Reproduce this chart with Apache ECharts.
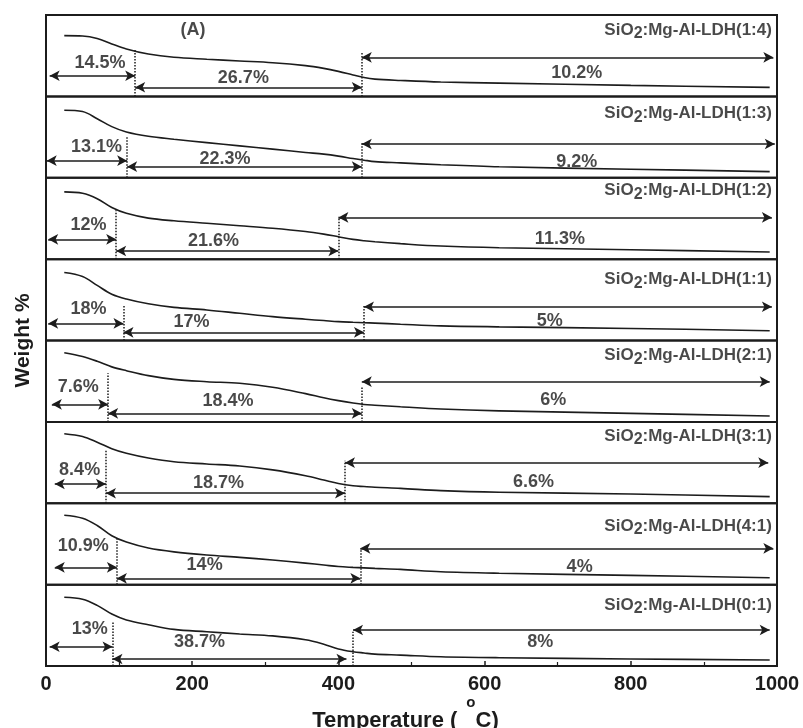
<!DOCTYPE html>
<html><head><meta charset="utf-8">
<script src="https://cdn.jsdelivr.net/npm/echarts@6/dist/echarts.min.js"></script>
<style>html,body{margin:0;padding:0;background:#fff}#c{width:803px;height:728px}</style>
</head><body><div id="c"></div>
<script>
// Temperature samples (°C)
const temperature = [25,50,70,90,110,140,175,220,265,310,355,380,400,420,435,450,485,540,620,800,990];
// Relative weight curves (panel-local units, 0 = panel bottom, 100 = panel top)
const weight_1_4 = [74.6,74.2,71.2,64.5,58.3,52,48,45.6,43.5,41.4,37.8,34.4,30.7,26.3,23.1,21.2,19.6,17.7,16.3,13.5,11];
const weight_1_3 = [83,81.3,72.6,62.8,56.2,50.9,47.3,43.2,39.2,35.2,31.1,29,26.6,23.6,21.6,19.8,18.3,16,13.5,10.5,7.5];
const weight_1_2 = [82.6,80.9,74.3,63.4,56.3,50.4,47.1,44,41,37.9,33.9,30.7,27.5,24.3,22.6,21.3,19,16.1,14,11.5,8.7];
const weight_1_1 = [83.5,78.6,67.7,56.9,51,45.1,40.7,37.5,33.4,29.3,26.1,24.5,23.2,22.4,21.9,21.4,20,18,16.8,14.8,12];
const weight_2_1 = [85,80.3,74.5,67.6,62.9,56.8,52.2,49.4,47.4,42.6,34.7,29.6,26.1,23.1,21.4,20.5,18.6,15.8,13.5,10.5,7.2];
const weight_3_1 = [85.5,82,75,67,61.4,55.6,51,48.3,45.8,41,33.8,28.5,24.3,21.5,20.5,19.6,18.3,15.5,13.5,11.4,8.1];
const weight_4_1 = [85.3,81.6,72.7,60,52.3,45,40.3,36.4,33.5,30.2,26.4,24.1,22.2,21.2,20.6,20,18.7,15.8,14,11.4,8.5];
const weight_0_1 = [84.5,82,74.5,63.8,56.5,50.7,45,42.1,39.3,37,32.2,26.8,21,17.6,16,14.6,13.4,11.4,10.2,8.6,7.4];
const weights = [weight_1_4, weight_1_3, weight_1_2, weight_1_1, weight_2_1, weight_3_1, weight_4_1, weight_0_1];

// Categories
const ratios = ['1:4','1:3','1:2','1:1','2:1','3:1','4:1','0:1'];
// Mass-loss labels for the three steps
const loss1 = ['14.5%','13.1%','12%','18%','7.6%','8.4%','10.9%','13%'];
const loss2 = ['26.7%','22.3%','21.6%','17%','18.4%','18.7%','14%','38.7%'];
const loss3 = ['10.2%','9.2%','11.3%','5%','6%','6.6%','4%','8%'];
// Step boundary temperatures (°C)
const stepStart = [5,1,3,3,8,12,12,5];
const step1End = [122,111,96,106,85,82,97,91];
const step2End = [432,432,400,435,432,409,430,420];
const step2ArrowEnd = [432,432,400,435,432,409,430,411];
const stepFinal = [995,997,993,993,990,988,995,990];
// Tick labels
const xTicks = [0,200,400,600,800,1000];

// Annotation layout (panel-local heights)
const arrow1Level = [25.3,21,24.3,21,21.6,23.7,21.2,23.7];
const arrow2Level = [11.2,13.6,10,10,10.5,12.3,7.7,8.6];
const arrow3Level = [48,41.5,51.3,41.5,49.4,49.9,44.6,44.2];
const label1Pos = [[74,40.7],[69,38.2],[58,41.9],[58,38.3],[44,42.5],[46,40.9],[51,47.4],[60,45]];
const label2Pos = [[270,23],[245,23.1],[229,22.6],[199,23],[249,26],[236,25.3],[217,24.1],[210,29.9]];
const label3Pos = [[726,28.4],[726,19.8],[703,24.3],[689,24.3],[694,27],[667,26.5],[730,22],[676,29.9]];
const nameLevel = [81.6,79.2,84,75.2,82,82.7,72,75];
const cut1Top = [57,50.5,60,43.6,59.7,65.5,56.9,54.4];
const cut2Top = [55,44,52,43.6,43.3,52.3,44.6,42];

const FONT = '"Liberation Sans", Arial, sans-serif';
const INK = '#1c1c1c';
const N = 8, TOP = 15, PH = (666 - 15) / N;

const grids = [], xAxes = [], yAxes = [], series = [];
for (let i = 0; i < N; i++) {
  grids.push({left: 46, right: 26, top: TOP + i * PH, height: PH, show: true,
    outerBoundsMode: 'none', containLabel: false,
    borderColor: INK, borderWidth: 2, backgroundColor: 'transparent'});
  const last = i === N - 1;
  xAxes.push({type: 'value', gridIndex: i, min: 0, max: 1000, interval: 200,
    show: last,
    axisLine: {show: true, lineStyle: {color: INK, width: 2}},
    axisTick: {show: true, inside: true, length: 5, lineStyle: {color: INK, width: 1.5}},
    minorTick: {show: true, splitNumber: 2, length: 4, lineStyle: {color: INK, width: 1.2}},
    splitLine: {show: false},
    axisLabel: {show: true, color: INK, fontSize: 20, fontWeight: 'bold', fontFamily: FONT, margin: 8,
      formatter: v => xTicks.includes(v) ? String(v) : ''},
    name: last ? '{t|Temperature (}{o|o}{c|C)}' : '',
    nameLocation: 'middle', nameGap: 28,
    nameTextStyle: {color: INK, fontFamily: FONT, fontWeight: 'bold',
      rich: {t: {fontSize: 22, fontWeight: 'bold', fontFamily: FONT, color: INK, padding: [14, 0, 0, 0]},
             o: {fontSize: 15, fontWeight: 'bold', fontFamily: FONT, color: INK, padding: [0, 0, 24, 9]},
             c: {fontSize: 22, fontWeight: 'bold', fontFamily: FONT, color: INK, padding: [14, 12, 0, 0]}}}
  });
  yAxes.push({type: 'value', gridIndex: i, min: 0, max: 100, show: false});

  const w = weights[i];
  const dotted = {type: 'dotted', color: INK, width: 1.5};
  series.push({
    type: 'line', xAxisIndex: i, yAxisIndex: i, smooth: 0.35, showSymbol: false, silent: true,
    data: temperature.map((t, k) => [t, w[k]]),
    lineStyle: {color: INK, width: 1.6},
    markLine: {
      silent: true, animation: false,
      symbol: ['arrow', 'arrow'], symbolSize: [8, 10],
      lineStyle: {color: INK, width: 1.7, type: 'solid'},
      label: {show: false},
      emphasis: {disabled: true},
      data: [
        [{coord: [stepStart[i], arrow1Level[i]]}, {coord: [step1End[i], arrow1Level[i]]}],
        [{coord: [step1End[i], arrow2Level[i]]}, {coord: [step2ArrowEnd[i], arrow2Level[i]]}],
        [{coord: [step2End[i], arrow3Level[i]]}, {coord: [stepFinal[i], arrow3Level[i]]}],
        [{coord: [step1End[i], 0], symbol: 'none', lineStyle: dotted}, {coord: [step1End[i], cut1Top[i]], symbol: 'none'}],
        [{coord: [step2End[i], 0], symbol: 'none', lineStyle: dotted}, {coord: [step2End[i], cut2Top[i]], symbol: 'none'}]
      ]
    }
  });

  const texts = [
    {value: label1Pos[i], label: {formatter: loss1[i]}},
    {value: label2Pos[i], label: {formatter: loss2[i]}},
    {value: label3Pos[i], label: {formatter: loss3[i]}},
    {value: [993, nameLevel[i]], label: {position: 'left', distance: 0,
      formatter: '{a|SiO}{s|2}{a|:Mg-Al-LDH(' + ratios[i] + ')}'}}
  ];
  if (i === 0) texts.push({value: [201, 81.6], label: {formatter: '(A)', fontSize: 18}});
  series.push({
    type: 'scatter', xAxisIndex: i, yAxisIndex: i, symbolSize: 0, silent: true,
    data: texts,
    label: {show: true, position: 'inside', color: INK, fontSize: 18, fontWeight: 'bold', fontFamily: FONT,
      rich: {a: {fontSize: 17, fontWeight: 'bold', fontFamily: FONT, color: INK},
             s: {fontSize: 16, fontWeight: 'bold', fontFamily: FONT, color: INK, padding: [8, 0, 0, 0]}}},
    emphasis: {disabled: true}
  });
}
// full-height helper grid for the y-axis title
grids.push({left: 46, right: 26, top: TOP, bottom: 728 - 666, show: false, outerBoundsMode: 'none', containLabel: false});
xAxes.push({type: 'value', gridIndex: N, show: false, min: 0, max: 1});
yAxes.push({type: 'value', gridIndex: N, min: 0, max: 1,
  axisLine: {show: false}, axisTick: {show: false}, axisLabel: {show: false}, splitLine: {show: false},
  name: 'Weight %', nameLocation: 'middle', nameGap: 12,
  nameTextStyle: {color: INK, fontSize: 21, fontWeight: 'bold', fontFamily: FONT}});

const chart = echarts.init(document.getElementById('c'), null, {renderer: 'canvas'});
chart.setOption({animation: false, backgroundColor: '#fff', grid: grids, xAxis: xAxes, yAxis: yAxes, series: series});
</script></body></html>
